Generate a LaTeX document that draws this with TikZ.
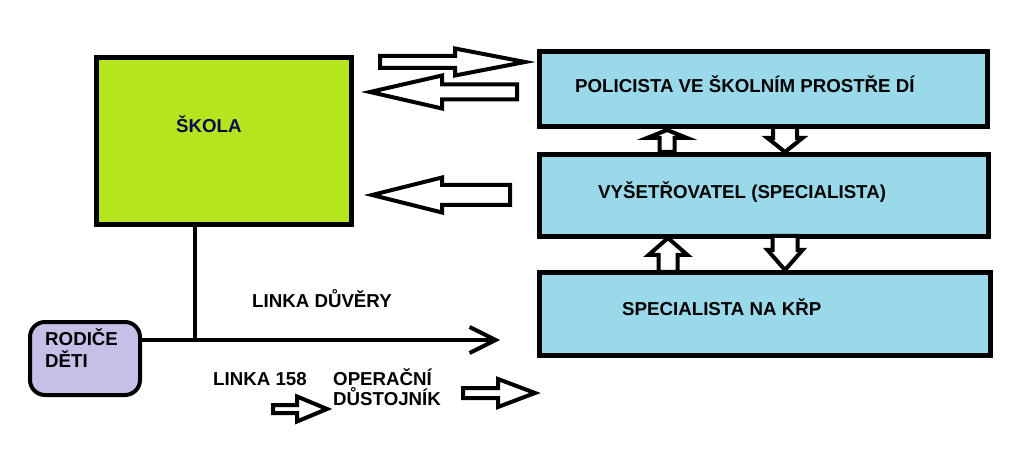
\documentclass[tikz,border=0pt]{standalone}
\usepackage{fontspec}
\setmainfont{Liberation Sans}
\usetikzlibrary{arrows.meta, calc}

\definecolor{skolagreen}{RGB}{181,230,29}
\definecolor{policeblue}{RGB}{153,217,234}
\definecolor{parentlilac}{RGB}{200,191,231}
\definecolor{skolanavy}{RGB}{10,10,80}

% block arrows: tail, tip, axis, shaft half width, head half width, head base
\newcommand{\hblock}[6]{%
  \draw[blockarrow] (#1,{#3-#4}) -- (#6,{#3-#4}) -- (#6,{#3-#5}) -- (#2,#3)
    -- (#6,{#3+#5}) -- (#6,{#3+#4}) -- (#1,{#3+#4}) -- cycle;}
\newcommand{\vblock}[6]{%
  \draw[blockarrow] ({#1-#4},#2) -- ({#1-#4},#6) -- ({#1-#5},#6) -- (#1,#3)
    -- ({#1+#5},#6) -- ({#1+#4},#6) -- ({#1+#4},#2) -- cycle;}

\begin{document}
\begin{tikzpicture}[
    x=1pt, y=-1pt,
    lbl/.style={font=\fontsize{18.7}{21}\selectfont\bfseries, inner sep=0pt, anchor=base west},
    skolabox/.style={rectangle, draw, line width=5pt, fill=skolagreen, minimum width=255pt, minimum height=167pt},
    policebox/.style={rectangle, draw, line width=5pt, fill=policeblue},
    parentbox/.style={rectangle, draw, line width=4pt, fill=parentlilac, rounded corners=15pt, minimum width=110pt, minimum height=73pt},
    blockarrow/.style={draw, line width=4pt, fill=white},
    arrowline/.style={line width=4pt, -{Straight Barb[length=26pt, width=26pt]}}
]
\useasboundingbox (0,0) rectangle (1015,465);

% boxes
\node[skolabox] (skola) at (224,141) {};
\node[policebox, minimum width=448pt, minimum height=75pt] (pol) at (763.5,89) {};
\node[policebox, minimum width=449pt, minimum height=82pt] (vys) at (764,195.5) {};
\node[policebox, minimum width=451pt, minimum height=83pt] (krp) at (765,314) {};
\node[parentbox] (rod) at (85,358.5) {};

% texts
\node[lbl, text=skolanavy] (skolatxt) at (176,133) {ŠKOLA};
\node[lbl] (poltxt) at (575,93) {POLICISTA VE ŠKOLNÍM PROSTŘE DÍ};
\node[lbl] (vystxt) at (598,199) {VYŠETŘOVATEL (SPECIALISTA)};
\node[lbl] (krptxt) at (622,316) {SPECIALISTA NA KŘP};
\node[lbl] (rodtxt) at (45,345) {RODIČE};
\node[lbl] (dettxt) at (45,367) {DĚTI};
\node[lbl] (duvery) at (252,307) {LINKA DŮVĚRY};
\node[lbl] (linka) at (213,385) {LINKA 158};
\node[lbl] (oper) at (333,385) {OPERAČNÍ};
\node[lbl] (dust) at (333,405) {DŮSTOJNÍK};

% lines
\coordinate (tip) at (500,340);
\coordinate (joint) at (195,340);
\draw[arrowline] (rod.east |- tip) -- (tip);
\draw[line width=4pt] (joint |- skola.south) -- (joint);

% block arrows
\hblock{380}{525}{62}{6}{13.5}{455}
\hblock{517}{370}{92}{7.5}{16.5}{442}
\hblock{510}{372}{195}{10}{17.5}{442}
\vblock{667}{152}{130}{7.5}{20}{138}
\vblock{785}{127}{152}{12}{17.5}{138}
\vblock{668}{272}{238}{9.5}{19.5}{255}
\vblock{785}{236}{270}{12.5}{17.5}{250}
\hblock{273}{327}{409}{4}{12.5}{297}
\hblock{463}{535}{393}{5}{14}{498}
\end{tikzpicture}
\end{document}
